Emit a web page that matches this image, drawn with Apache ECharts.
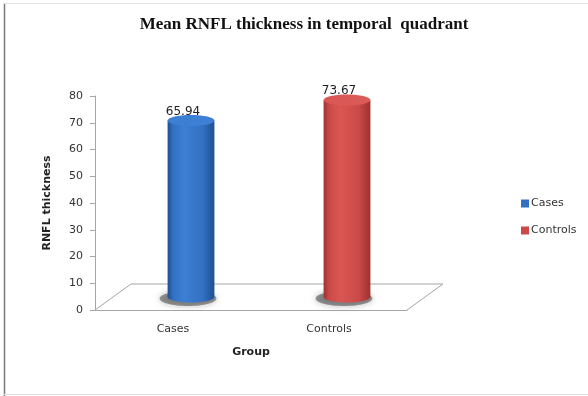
<!DOCTYPE html>
<html>
<head>
<meta charset="utf-8">
<script src="https://cdn.jsdelivr.net/npm/echarts@6/dist/echarts.min.js"></script>
<style>
  html, body { margin: 0; padding: 0; background: #fff; }
  #chart { width: 588px; height: 396px; }
</style>
</head>
<body>
<div id="chart"></div>
<script>
// Chart data
const titleText = 'Mean RNFL thickness in temporal  quadrant';
const categories = ['Cases', 'Controls'];
const values = [65.94, 73.67];
const yTicks = { min: 0, max: 80, interval: 10 };
const xAxisName = 'Group';
const yAxisName = 'RNFL thickness';

// Cylinder shading per group
const palettes = [
  { base: '#3370c3', dark: '#1f4f90', light: '#3b7fd4', cap: '#3d80d6' },
  { base: '#cb4a47', dark: '#9c3230', light: '#d95653', cap: '#dc5c59' }
];

// Half of the pseudo-3D floor depth (x to the right, y upwards)
const DX = 18, DY = 13;

function bodyGradient(p) {
  return new echarts.graphic.LinearGradient(0, 0, 1, 0, [
    { offset: 0, color: p.dark },
    { offset: 0.12, color: p.base },
    { offset: 0.35, color: p.light },
    { offset: 0.75, color: p.base },
    { offset: 1, color: p.dark }
  ]);
}

function renderCylinder(idx) {
  return function (params, api) {
    const ci = api.value(0);
    const v = api.value(1);
    const top = api.coord([ci, v]);
    const base = api.coord([ci, 0]);
    const w = api.size([1, 0])[0] * 0.3;
    const rx = w / 2, ry = 5.5;
    const cx = top[0] + DX;
    const topY = top[1] - DY;
    const botY = base[1] - DY;
    const p = palettes[idx];
    return {
      type: 'group',
      children: [
        { // soft floor shadow
          type: 'ellipse',
          shape: { cx: cx - 3, cy: botY + 1.5, rx: rx + 5, ry: ry + 2 },
          style: {
            fill: 'rgba(40,40,40,0.45)',
            shadowBlur: 6,
            shadowColor: 'rgba(0,0,0,0.6)'
          }
        },
        {
          type: 'ellipse',
          shape: { cx: cx, cy: botY, rx: rx, ry: ry },
          style: { fill: bodyGradient(p) }
        },
        {
          type: 'rect',
          shape: { x: cx - rx, y: topY, width: w, height: botY - topY },
          style: { fill: bodyGradient(p) }
        },
        {
          type: 'ellipse',
          shape: { cx: cx, cy: topY, rx: rx, ry: ry },
          style: {
            fill: new echarts.graphic.LinearGradient(0, 0, 1, 1, [
              { offset: 0, color: p.light },
              { offset: 1, color: p.cap }
            ])
          }
        },
        {
          type: 'text',
          x: top[0] + 10,
          y: top[1] - 22,
          style: {
            text: String(v),
            fill: '#222',
            font: '12px "DejaVu Sans"',
            align: 'center',
            verticalAlign: 'middle'
          }
        }
      ]
    };
  };
}

function renderFloor(params, api) {
  const cs = params.coordSys;
  const x0 = cs.x, x1 = cs.x + cs.width, y0 = cs.y + cs.height;
  const bx = 2 * DX, by = 2 * DY;
  return {
    type: 'polyline',
    shape: { points: [[x0, y0], [x0 + bx, y0 - by], [x1 + bx, y0 - by], [x1, y0]] },
    style: { stroke: '#a6a6a6', lineWidth: 1, fill: null }
  };
}

const series = [{
  type: 'custom',
  name: 'floor',
  silent: true,
  z: 1,
  renderItem: renderFloor,
  data: [[0, 0]]
}];
categories.forEach(function (c, i) {
  series.push({
    type: 'custom',
    name: c,
    z: 2 + i,
    itemStyle: { color: palettes[i].base },
    renderItem: renderCylinder(i),
    encode: { x: 0, y: 1 },
    data: [[i, values[i]]]
  });
});

const chart = echarts.init(document.getElementById('chart'), null, { renderer: 'canvas' });
chart.setOption({
  animation: false,
  backgroundColor: '#fff',
  title: {
    text: titleText,
    left: 299,
    textAlign: 'center',
    top: 11,
    textStyle: { fontFamily: '"Liberation Serif", serif', fontWeight: 'bold', fontSize: 17, color: '#111' }
  },
  legend: {
    data: categories,
    orient: 'vertical',
    left: 516,
    top: 193,
    itemWidth: 8,
    itemHeight: 8,
    itemGap: 16,
    icon: 'rect',
    textStyle: { fontFamily: '"DejaVu Sans"', fontSize: 11, color: '#333', padding: [0, 0, 0, -3] }
  },
  grid: { left: 95, top: 96, width: 312, height: 214, containLabel: false },
  xAxis: {
    type: 'category',
    data: categories,
    name: xAxisName,
    nameLocation: 'middle',
    nameGap: 37,
    nameTextStyle: { fontFamily: '"DejaVu Sans"', fontWeight: 'bold', fontSize: 11, color: '#222' },
    axisLine: { show: true, lineStyle: { color: '#a6a6a6' } },
    axisTick: { show: false },
    axisLabel: { margin: 14, fontFamily: '"DejaVu Sans"', fontSize: 11, color: '#333' },
    splitLine: { show: false }
  },
  yAxis: {
    type: 'value',
    min: yTicks.min,
    max: yTicks.max,
    interval: yTicks.interval,
    name: yAxisName,
    nameLocation: 'middle',
    nameGap: 42,
    nameRotate: 90,
    nameTextStyle: { fontFamily: '"DejaVu Sans"', fontWeight: 'bold', fontSize: 11, color: '#222' },
    axisLine: { show: true, lineStyle: { color: '#a6a6a6' } },
    axisTick: { show: true, length: 5, inside: false, lineStyle: { color: '#a6a6a6' } },
    axisLabel: { margin: 12, fontFamily: '"DejaVu Sans"', fontSize: 11, color: '#333' },
    splitLine: { show: false }
  },
  graphic: [
    { type: 'line', shape: { x1: 4.5, y1: 3, x2: 4.5, y2: 396 }, style: { stroke: '#7a7a7a', lineWidth: 1.5 } },
    { type: 'line', shape: { x1: 4, y1: 3.5, x2: 588, y2: 3.5 }, style: { stroke: '#e2e2e2', lineWidth: 1 } },
    { type: 'line', shape: { x1: 4, y1: 394.5, x2: 588, y2: 394.5 }, style: { stroke: '#e2e2e2', lineWidth: 1 } }
  ],
  series: series
});
</script>
</body>
</html>
